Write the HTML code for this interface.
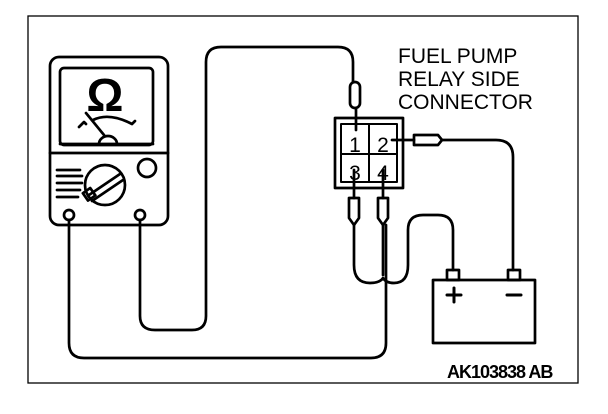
<!DOCTYPE html>
<html><head><style>
html,body{margin:0;padding:0;background:#fff;}
svg{display:block;}
text{font-family:"Liberation Sans",sans-serif;}
</style></head><body>
<svg width="608" height="414" viewBox="0 0 608 414" xmlns="http://www.w3.org/2000/svg">
<rect x="0" y="0" width="608" height="414" fill="#fff"/>
<rect x="28" y="16" width="550" height="367" fill="none" stroke="#000" stroke-width="1.3"/>
<g fill="none" stroke="#000" stroke-width="2.7" stroke-linecap="round" stroke-linejoin="round">
<rect x="50" y="57" width="118" height="168" rx="9"/>
<rect x="60" y="68" width="93" height="77" rx="4"/>
<line x1="50" y1="153" x2="168" y2="153"/>
<path d="M79 127 L84 122 L86 124 M93 120 Q109 112 132 124 L135 121"/>
<path d="M86 113 L104 135"/>
<path d="M99 144 A9 8 0 0 1 117 144"/>
<line x1="60" y1="144" x2="153" y2="144"/>
<circle cx="105" cy="185" r="20"/>
<path d="M89 195 L120 174 M92 201 L123 180"/>
<rect x="85" y="190" width="9" height="9" transform="rotate(-35 89 195)"/>
<circle cx="147" cy="168" r="9"/>
<path d="M57 170 H80 M57 176 H82 M57 183 H82 M57 190 H80 M57 197 H78"/>
<circle cx="69" cy="215" r="5"/>
<circle cx="140" cy="215" r="5"/>
<path d="M69 220 V343 Q69 358 84 358 H371 Q386 358 386 343 V225"/>
<path d="M140 220 V316 Q140 330 155 330 H192 Q206 330 206 316 V62 Q206 47 221 47 H338 Q353 47 353 62 V82"/>
<path d="M356 108 V130"/>
<rect x="350" y="82" width="10" height="26" rx="5"/>
<rect x="335" y="118" width="68" height="70"/>
<rect x="341" y="124" width="56" height="58" stroke-width="2"/>
<line x1="369" y1="124" x2="369" y2="182" stroke-width="2"/>
<line x1="341" y1="154" x2="397" y2="154" stroke-width="2"/>
<path d="M392 140 H414"/>
<path d="M414 135 H438 L442 140 L438 145 H414 Z"/>
<path d="M442 140 H496 Q513 140 513 157 V270"/>
<path d="M354 170 V198 M383 170 V198"/>
<path d="M349 198 H359 V218 L354 225 L349 218 Z"/>
<path d="M378 198 H388 V218 L383 225 L378 218 Z"/>
<path d="M354 225 V265 Q354 283 370 283 Q380 283 383 278 Q386 283 394 283 Q408 283 408 265 V230 Q408 215 423 215 H438 Q453 215 453 230 V270"/>
<path d="M383 225 V275"/>
<rect x="433" y="280" width="102" height="63"/>
<rect x="447" y="270" width="12" height="10"/>
<rect x="508" y="270" width="12" height="10"/>
<path d="M447 295 H461 M454 288 V302 M507 295 H521" stroke-width="3"/>
</g>
<text x="105" y="111" font-size="46" font-weight="bold" text-anchor="middle" font-family="Liberation Sans,DejaVu Sans,sans-serif">Ω</text>
<text x="355" y="152" font-size="21" text-anchor="middle">1</text>
<text x="383" y="152" font-size="21" text-anchor="middle">2</text>
<text x="355" y="180" font-size="21" text-anchor="middle">3</text>
<text x="383" y="180" font-size="21" text-anchor="middle">4</text>
<text x="398" y="63" font-size="21">FUEL PUMP</text>
<text x="398" y="86" font-size="21">RELAY SIDE</text>
<text x="398" y="109" font-size="21">CONNECTOR</text>
<text x="447" y="378" font-size="18" font-weight="bold" letter-spacing="-1">AK103838 AB</text>
</svg>
</body></html>
